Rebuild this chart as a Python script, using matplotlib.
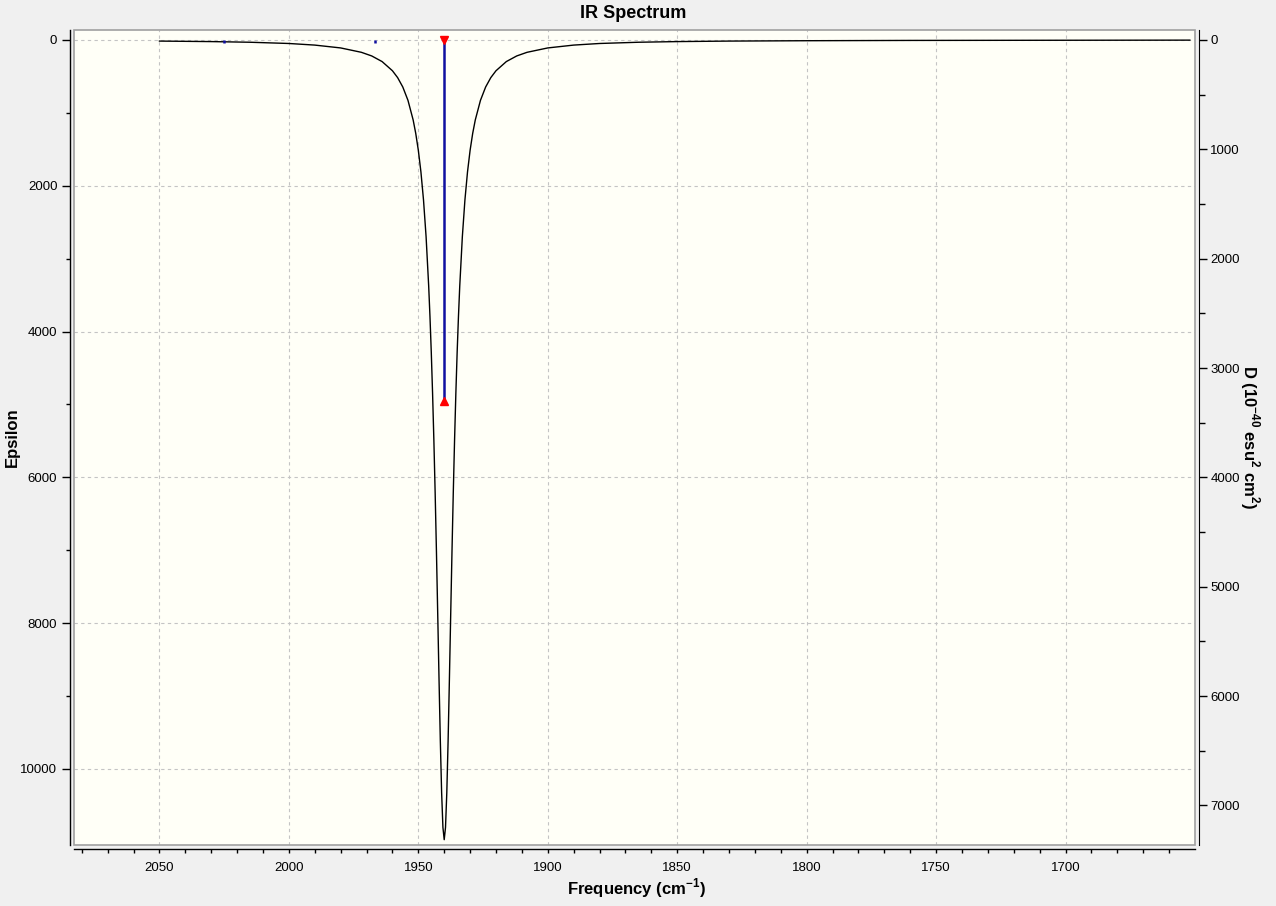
import matplotlib
matplotlib.use("Agg")
import matplotlib.pyplot as plt
from matplotlib.patches import Rectangle
from matplotlib.ticker import MultipleLocator, FixedLocator

plt.rcParams['font.family'] = ['Liberation Sans', 'DejaVu Sans']
plt.rcParams['mathtext.fontset'] = 'custom'
plt.rcParams['mathtext.rm'] = 'Liberation Sans'
plt.rcParams['mathtext.bf'] = 'Liberation Sans:bold'

# ---- data ----
spectrum_freq = [2050, 2030, 2015, 2000, 1990, 1980, 1972, 1968, 1964, 1960, 1958, 1956,
                 1954, 1952, 1951, 1950, 1949, 1948, 1947, 1946, 1945.5, 1945, 1944.5,
                 1944, 1943.5, 1943, 1942.5, 1942, 1941.5, 1941, 1940.5, 1940,
                 1939.5, 1939, 1938.5, 1938, 1937.5, 1937, 1936.5, 1936, 1935.5, 1935,
                 1934.5, 1934, 1933, 1932, 1931, 1930, 1929, 1928, 1926, 1924, 1922,
                 1920, 1916, 1912, 1908, 1900, 1890, 1880, 1865, 1850, 1830, 1800,
                 1760, 1710, 1652]
spectrum_eps = [15, 22, 31, 48, 70, 109, 169, 219, 296, 422, 516, 645,
                828, 1097, 1281, 1513, 1809, 2194, 2700, 3375, 3795, 4281, 4842,
                5485, 6213, 7021, 7889, 8776, 9618, 10325, 10801, 10970,
                10801, 10325, 9618, 8776, 7889, 7021, 6213, 5485, 4842, 4281,
                3795, 3375, 2700, 2194, 1809, 1513, 1281, 1097, 828, 645, 516,
                422, 296, 219, 169, 109, 70, 48, 31, 22, 15, 10,
                6, 4, 2]

stick_freq = [2025, 1966.7, 1940]
stick_D = [30, 25, 3301]

x_major = [2050, 2000, 1950, 1900, 1850, 1800, 1750, 1700]
x_minor = list(range(2080, 1655, -10))
eps_major = [0, 2000, 4000, 6000, 8000, 10000]
eps_minor = [1000, 3000, 5000, 7000, 9000]
D_major = [0, 1000, 2000, 3000, 4000, 5000, 6000, 7000]

# ---- figure ----
W, H = 1276, 906
fig = plt.figure(figsize=(W / 100, H / 100), dpi=100, facecolor='#F0F0F0')
L, R, T, B = 74, 1195, 30, 845
ax = fig.add_axes([L / W, 1 - B / H, (R - L) / W, (B - T) / H])
ax.set_facecolor('#FFFFF7')

ax.set_xlim(2083, 1650)
ax.set_ylim(11043, -137)

ax.plot(spectrum_freq, spectrum_eps, color='black', lw=1.0, zorder=3)

ax.xaxis.set_major_locator(FixedLocator(x_major))
ax.xaxis.set_minor_locator(FixedLocator(x_minor))
ax.yaxis.set_major_locator(FixedLocator(eps_major))
ax.yaxis.set_minor_locator(FixedLocator(eps_minor))
ax.grid(True, which='major', color='#C4C4C4', lw=0.8, linestyle=(0, (3, 3)))
ax.set_axisbelow(True)

for s in ['top', 'right']:
    ax.spines[s].set_visible(False)
for s in ['left', 'bottom']:
    ax.spines[s].set_position(('outward', 3))
    ax.spines[s].set_linewidth(1.0)
    ax.spines[s].set_color('black')

ax.tick_params(axis='x', which='both', direction='out', length=3, width=1, pad=6,
               labelsize=9.5, colors='black')
ax.tick_params(axis='y', which='major', direction='out', length=6, width=1, pad=3,
               labelsize=9.5)
ax.tick_params(axis='y', which='minor', direction='out', length=3, width=1)

# box around plotting area
ax.add_patch(Rectangle((0, 0), 1, 1, transform=ax.transAxes, fill=False,
                       edgecolor='#A0A0A0', lw=1.2, clip_on=False, zorder=5))

# right axis (D units)
ax2 = ax.twinx()
ax2.set_ylim(11043 / 1.5, -137 / 1.5)
ax2.set_xlim(2083, 1650)
for s in ['top', 'left', 'bottom']:
    ax2.spines[s].set_visible(False)
ax2.spines['right'].set_position(('outward', 3))
ax2.spines['right'].set_color('black')
ax2.yaxis.set_major_locator(FixedLocator(D_major))
ax2.yaxis.set_minor_locator(MultipleLocator(500))
ax2.tick_params(axis='y', which='major', direction='out', length=6, width=1, pad=2,
                labelsize=9.5)
ax2.tick_params(axis='y', which='minor', direction='out', length=4, width=1)

ax2.vlines(stick_freq, 0, stick_D, colors='#1010A0', lw=1.8, zorder=4)
ax2.plot([stick_freq[-1]], [0], marker='v', color='red', ms=6, ls='none',
         zorder=6, clip_on=False)
ax2.plot([stick_freq[-1]], [stick_D[-1]], marker='^', color='red', ms=6, ls='none',
         zorder=6)

# texts
fig.text(633 / W, 1 - 13 / H, 'IR Spectrum', ha='center', va='center',
         fontsize=13, fontweight='bold')
fig.text(636 / W, 1 - 888 / H, r'Frequency (cm$^{\mathbf{-1}}$)', ha='center',
         va='center', fontsize=12, fontweight='bold')
fig.text(12 / W, 1 - 437 / H, 'Epsilon', rotation=90, ha='center', va='center',
         fontsize=12, fontweight='bold')
fig.text(1250 / W, 1 - 437 / H, r'D (10$^{\mathbf{-40}}$ esu$^{\mathbf{2}}$ cm$^{\mathbf{2}}$)',
         rotation=270, ha='center', va='center', fontsize=12, fontweight='bold')

fig.savefig('out.png', dpi=100, facecolor=fig.get_facecolor())
